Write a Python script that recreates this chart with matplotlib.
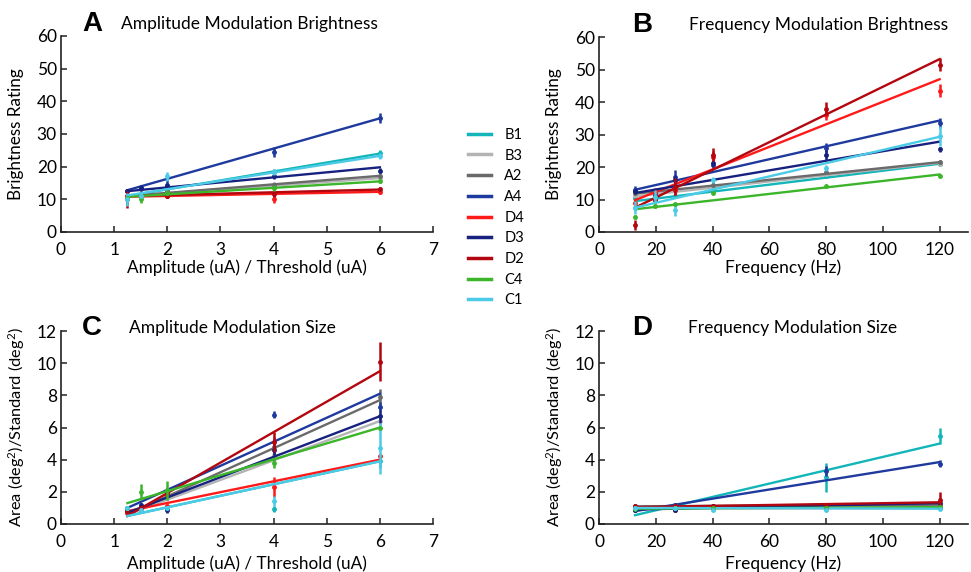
import matplotlib
matplotlib.use("Agg")
import matplotlib.pyplot as plt
from matplotlib.lines import Line2D

plt.rcParams["font.family"] = ["Lato", "DejaVu Sans"]
plt.rcParams["mathtext.fontset"] = "custom"
plt.rcParams["mathtext.rm"] = "Lato"
plt.rcParams["mathtext.it"] = "Lato:italic"

# electrodes, legend order (also draw order)
electrodes = ["B1", "B3", "A2", "A4", "D4", "D3", "D2", "C4", "C1"]
colors = ["#12b5b8", "#b4b4b4", "#6a6a6a", "#1f3a9e", "#ff1a1a",
          "#17217f", "#b3060f", "#3cb52b", "#4ccbe6"]

# ---- A: amplitude modulation brightness ----
amp_x = [1.25, 1.5, 2, 4, 6]
ampB_mean = [
    [11.0, 11.5, 13.0, 18.5, 24.2],
    [11.0, 11.5, 12.5, 14.0, 16.5],
    [11.0, 11.5, 12.5, 14.5, 17.2],
    [12.5, 13.5, 14.5, 24.5, 34.8],
    [11.0, 11.0, 11.0, 10.0, 12.2],
    [12.5, 13.5, 14.0, 17.0, 18.8],
    [10.0, 11.0, 11.0, 11.5, 13.3],
    [10.5, 10.0, 12.0, 13.5, 15.5],
    [10.0, 11.0, 17.0, 18.3, 23.3],
]
ampB_err = [
    [0.6, 0.5, 0.6, 0.8, 1.0],
    [0.5, 0.5, 0.5, 0.6, 0.6],
    [0.5, 0.5, 0.6, 0.7, 0.6],
    [0.8, 1.0, 1.5, 1.5, 1.5],
    [0.5, 0.5, 0.6, 1.2, 0.6],
    [0.6, 0.8, 0.8, 0.8, 0.8],
    [2.5, 0.6, 0.6, 0.8, 0.6],
    [0.5, 1.0, 0.8, 0.8, 0.5],
    [2.0, 1.0, 1.5, 1.0, 1.0],
]
ampB_fit_lo = [11.0, 11.0, 11.0, 12.8, 10.8, 12.5, 11.0, 10.8, 11.2]
ampB_fit_hi = [24.0, 16.5, 17.2, 34.8, 12.3, 19.8, 13.0, 15.5, 23.3]

# ---- B: frequency modulation brightness ----
freqB_x = [12.7, 19.7, 26.8, 40, 80, 120]
freqB_mean = [
    [10.5, 10.0, 11.0, 13.0, 17.2, 21.0],
    [11.5, 11.0, 12.5, 14.0, 18.0, 20.8],
    [12.0, 11.0, 13.0, 14.5, 18.6, 21.6],
    [13.0, 12.0, 17.0, 20.5, 26.0, 33.5],
    [9.0, 12.4, 13.0, 23.0, 36.0, 43.5],
    [12.5, 11.0, 16.0, 21.2, 23.7, 25.4],
    [2.2, 10.0, 14.0, 23.7, 38.0, 51.5],
    [4.7, 8.0, 8.5, 12.0, 14.2, 17.2],
    [7.4, 10.9, 6.8, 16.0, 19.7, 29.5],
]
freqB_err = [
    [0.8, 0.6, 0.6, 0.6, 0.6, 0.6],
    [0.6, 0.6, 0.6, 0.6, 0.6, 0.6],
    [0.6, 0.6, 0.8, 0.8, 0.8, 0.6],
    [1.2, 1.0, 2.0, 1.0, 1.5, 1.5],
    [1.0, 1.0, 1.5, 2.0, 1.5, 2.0],
    [0.8, 0.8, 1.2, 0.8, 1.5, 0.8],
    [1.5, 1.0, 2.5, 2.0, 2.0, 2.0],
    [0.6, 0.5, 0.5, 0.4, 0.3, 0.3],
    [2.0, 2.0, 2.0, 1.0, 1.0, 3.0],
]
freqB_fit_lo = [9.5, 11.0, 11.8, 13.0, 9.8, 12.0, 7.5, 7.0, 7.5]
freqB_fit_hi = [21.0, 21.3, 21.5, 34.3, 47.0, 27.8, 53.2, 17.7, 29.3]

# ---- C: amplitude modulation size ----
ampS_mean = [
    [0.9, 0.9, 1.0, 0.95, 3.9],
    [0.9, 1.0, 1.6, 4.3, 6.4],
    [0.8, 1.0, 1.8, 4.8, 7.9],
    [1.0, 1.1, 1.0, 6.8, 7.3],
    [0.7, 0.9, 1.1, 2.3, 4.2],
    [0.9, 1.2, 0.9, 4.6, 6.7],
    [0.8, 1.0, 1.9, 5.1, 10.1],
    [1.0, 2.0, 2.1, 3.8, 6.0],
    [1.0, 0.9, 1.0, 1.45, 4.7],
]
ampS_err = [
    [0.1, 0.1, 0.1, 0.2, 0.4],
    [0.1, 0.1, 0.2, 0.3, 0.3],
    [0.1, 0.1, 0.2, 0.6, 0.5],
    [0.1, 0.1, 0.1, 0.2, 0.3],
    [0.1, 0.1, 0.1, 0.6, 0.1],
    [0.1, 0.1, 0.2, 0.3, 0.4],
    [0.1, 0.1, 0.2, 0.6, 1.2],
    [0.1, 0.5, 0.6, 0.3, 0.1],
    [0.1, 0.1, 0.1, 0.3, 1.6],
]
ampS_fit_lo = [0.5, 0.6, 0.6, 1.0, 0.8, 0.7, 0.5, 1.3, 0.5]
ampS_fit_hi = [3.9, 6.4, 7.7, 8.1, 4.0, 6.7, 9.5, 6.0, 3.9]

# ---- D: frequency modulation size ----
freqS_x = [12.7, 26.8, 40, 80, 120]
freqS_mean = [
    [1.0, 1.0, 1.0, 2.9, 5.5],
    [1.0, 1.0, 1.0, 1.0, 1.0],
    [1.1, 1.2, 1.0, 1.1, 1.2],
    [0.9, 1.2, 1.1, 3.3, 3.75],
    [1.0, 0.9, 1.0, 1.0, 1.0],
    [0.9, 0.9, 1.1, 1.2, 1.3],
    [1.15, 1.1, 1.1, 1.2, 1.5],
    [0.95, 1.0, 1.0, 1.0, 1.05],
    [1.0, 1.0, 0.9, 0.9, 0.95],
]
freqS_err = [
    [0.1, 0.1, 0.1, 0.9, 0.5],
    [0.1, 0.1, 0.1, 0.1, 0.1],
    [0.1, 0.1, 0.1, 0.1, 0.1],
    [0.1, 0.1, 0.1, 0.3, 0.2],
    [0.1, 0.1, 0.1, 0.1, 0.1],
    [0.1, 0.1, 0.1, 0.1, 0.1],
    [0.1, 0.1, 0.1, 0.1, 0.5],
    [0.1, 0.1, 0.1, 0.1, 0.1],
    [0.1, 0.1, 0.1, 0.1, 0.1],
]
freqS_fit_lo = [0.55, 1.0, 1.1, 0.8, 1.0, 0.9, 1.05, 0.95, 1.0]
freqS_fit_hi = [5.0, 1.05, 1.2, 3.85, 1.0, 1.3, 1.35, 1.05, 0.95]


def draw_panel(ax, x, means, errs, fit_lo, fit_hi):
    for i, c in enumerate(colors):
        ax.errorbar(x, means[i], yerr=errs[i], fmt="o", ms=2.5, color=c,
                    elinewidth=1.8, capsize=0, zorder=2 + i * 0.1)
        ax.plot([x[0], x[-1]], [fit_lo[i], fit_hi[i]], color=c, lw=1.7,
                zorder=2 + i * 0.1)
    for s in ["top", "right"]:
        ax.spines[s].set_visible(False)
    for s in ["left", "bottom"]:
        ax.spines[s].set_linewidth(1.2)
        ax.spines[s].set_color("#222222")
    ax.tick_params(direction="in", length=4, width=1.1, labelsize=12.5,
                   color="#222222")
    ax.tick_params(axis="x", pad=7)
    ax.tick_params(axis="y", pad=3)


fig = plt.figure(figsize=(9.71, 5.72), dpi=100)
W, H = 971, 572


def add_axes(left, right, top, bottom):
    return fig.add_axes([left / W, 1 - bottom / H, (right - left) / W, (bottom - top) / H])


axA = add_axes(61, 433, 36, 232)
axB = add_axes(599, 968, 37, 232)
axC = add_axes(61, 433, 331, 524)
axD = add_axes(599, 968, 331, 524)

draw_panel(axA, amp_x, ampB_mean, ampB_err, ampB_fit_lo, ampB_fit_hi)
draw_panel(axB, freqB_x, freqB_mean, freqB_err, freqB_fit_lo, freqB_fit_hi)
draw_panel(axC, amp_x, ampS_mean, ampS_err, ampS_fit_lo, ampS_fit_hi)
draw_panel(axD, freqS_x, freqS_mean, freqS_err, freqS_fit_lo, freqS_fit_hi)

for ax in (axA, axC):
    ax.set_xlim(0, 7)
    ax.set_xticks(range(0, 8))
    ax.set_xlabel("Amplitude (uA) / Threshold (uA)", fontsize=12.3)
for ax in (axB, axD):
    ax.set_xlim(0, 130)
    ax.set_xticks(range(0, 121, 20))
    ax.set_xlabel("Frequency (Hz)", fontsize=12.5)
for ax in (axA, axB):
    ax.set_ylim(0, 60)
    ax.set_yticks(range(0, 61, 10))
    ax.set_ylabel("Brightness Rating", fontsize=12.3)
for ax in (axC, axD):
    ax.set_ylim(0, 12)
    ax.set_yticks(range(0, 13, 2))
    ax.set_ylabel("Area (deg$^2$)/Standard (deg$^2$)", fontsize=11.8)

axA.yaxis.set_label_coords(-0.099, 0.5)
axC.yaxis.set_label_coords(-0.091, 0.5)
axB.yaxis.set_label_coords(-0.1, 0.5)
axD.yaxis.set_label_coords(-0.092, 0.5)
axA.xaxis.set_label_coords(0.5, -0.14)
axB.xaxis.set_label_coords(0.5, -0.14)
axC.xaxis.set_label_coords(0.5, -0.165)
axD.xaxis.set_label_coords(0.5, -0.165)

panels = [
    (axA, "A", "Amplitude Modulation Brightness", 0.056, 0.161, 1.06),
    (axB, "B", "Frequency Modulation Brightness", 0.09, 0.245, 1.06),
    (axC, "C", "Amplitude Modulation Size", 0.056, 0.183, 1.015),
    (axD, "D", "Frequency Modulation Size", 0.09, 0.24, 1.015),
]
for ax, letter, title, lx, tx, ty in panels:
    ax.text(lx, ty, letter, transform=ax.transAxes, fontsize=20,
            fontweight="bold", family="Liberation Sans", va="center", ha="left")
    ax.text(tx, ty, title, transform=ax.transAxes, fontsize=12.5,
            va="center", ha="left")

handles = [Line2D([], [], color=c, lw=2.5) for c in colors]
fig.legend(handles, electrodes, loc="upper left", bbox_to_anchor=(462 / W, 1 - 122 / H),
           frameon=False, fontsize=10.5, handlelength=1.6, handletextpad=0.9,
           labelspacing=0.46, borderaxespad=0)

fig.savefig("out.png", dpi=100)
